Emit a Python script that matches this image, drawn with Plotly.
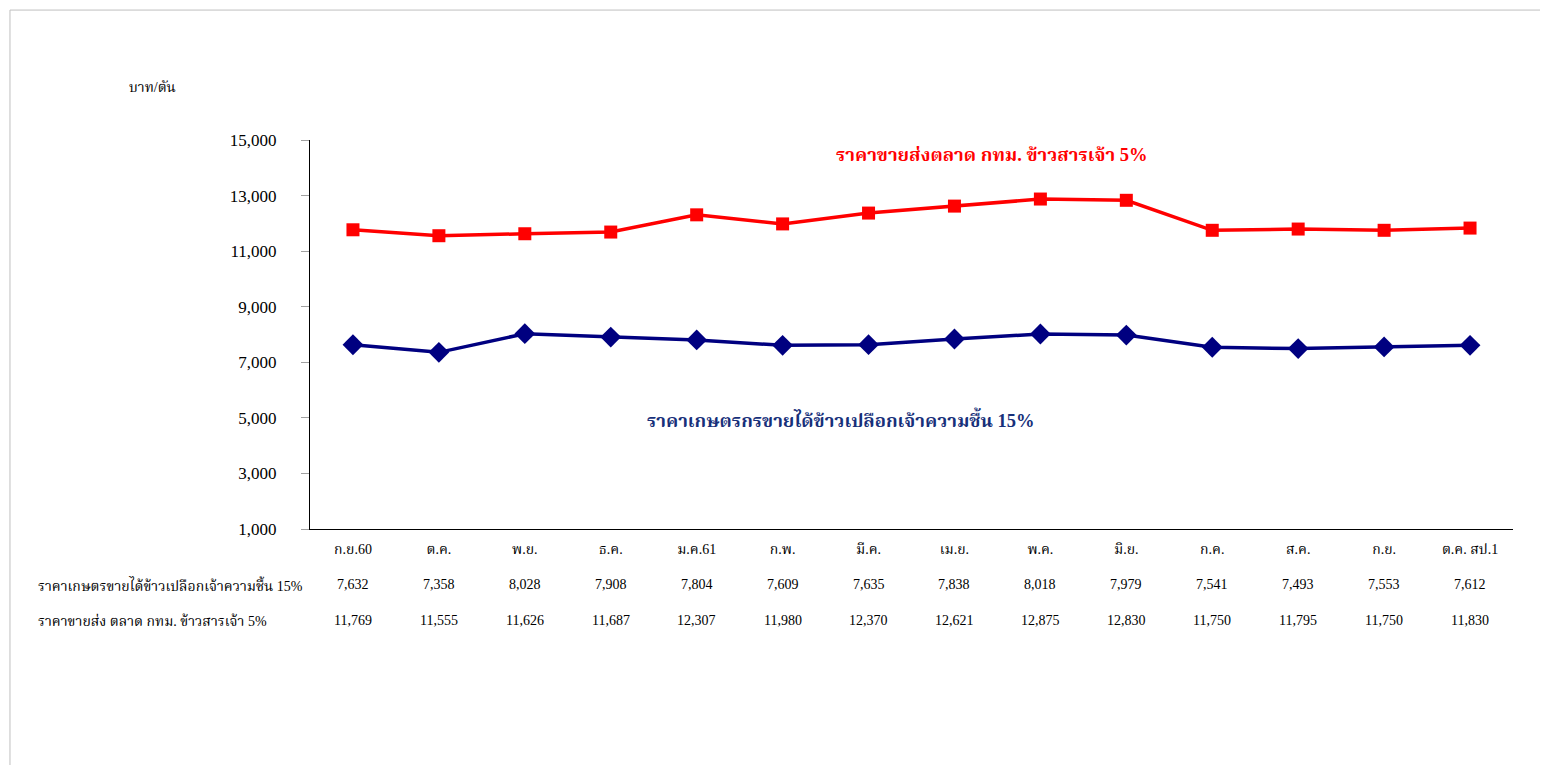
import plotly.graph_objects as go

categories = ["ก.ย.60", "ต.ค.", "พ.ย.", "ธ.ค.", "ม.ค.61", "ก.พ.", "มี.ค.", "เม.ย.",
              "พ.ค.", "มิ.ย.", "ก.ค.", "ส.ค.", "ก.ย.", "ต.ค. สป.1"]
farmer_price = [7632, 7358, 8028, 7908, 7804, 7609, 7635, 7838, 8018, 7979, 7541, 7493, 7553, 7612]
wholesale_price = [11769, 11555, 11626, 11687, 12307, 11980, 12370, 12621, 12875, 12830, 11750, 11795, 11750, 11830]
y_ticks = [1000, 3000, 5000, 7000, 9000, 11000, 13000, 15000]

row_label_farmer = "ราคาเกษตรขายได้ข้าวเปลือกเจ้าความชื้น 15%"
row_label_wholesale = "ราคาขายส่ง ตลาด กทม. ข้าวสารเจ้า 5%"
series_label_farmer = "ราคาเกษตรกรขายได้ข้าวเปลือกเจ้าความชื้น 15%"
series_label_wholesale = "ราคาขายส่งตลาด กทม. ข้าวสารเจ้า 5%"
unit_label = "บาท/ตัน"

FONT = "Liberation Serif, Times New Roman, Noto Serif Thai, Noto Sans Thai, serif"
RED = "#FF0000"
NAVY = "#000080"

fig = go.Figure()
fig.add_trace(go.Scatter(
    x=categories, y=wholesale_price, mode="lines+markers",
    line=dict(color=RED, width=3.5),
    marker=dict(symbol="square", size=13, color=RED),
    showlegend=False, cliponaxis=False))
fig.add_trace(go.Scatter(
    x=categories, y=farmer_price, mode="lines+markers",
    line=dict(color=NAVY, width=3.5),
    marker=dict(symbol="diamond", size=16, color=NAVY),
    showlegend=False, cliponaxis=False))

annotations = []
for c, v in zip(categories, farmer_price):
    annotations.append(dict(x=c, xref="x", y=-0.143, yref="paper", text=f"{v:,}",
                            showarrow=False, font=dict(family=FONT, size=14, color="black"),
                            xanchor="center", yanchor="middle"))
for c, v in zip(categories, wholesale_price):
    annotations.append(dict(x=c, xref="x", y=-0.236, yref="paper", text=f"{v:,}",
                            showarrow=False, font=dict(family=FONT, size=14, color="black"),
                            xanchor="center", yanchor="middle"))
annotations += [
    dict(x=-0.228, xref="paper", y=-0.143, yref="paper", text=row_label_farmer, showarrow=False,
         font=dict(family=FONT, size=14, color="black"), xanchor="left", yanchor="middle"),
    dict(x=-0.228, xref="paper", y=-0.236, yref="paper", text=row_label_wholesale, showarrow=False,
         font=dict(family=FONT, size=14, color="black"), xanchor="left", yanchor="middle"),
    dict(x=-0.152, xref="paper", y=1.136, yref="paper", text=unit_label, showarrow=False,
         font=dict(family=FONT, size=14, color="black"), xanchor="left", yanchor="middle"),
    dict(x=0.567, xref="paper", y=0.962, yref="paper", text=f"<b>{series_label_wholesale}</b>",
         showarrow=False, font=dict(family=FONT, size=18.5, color=RED), xanchor="center", yanchor="middle"),
    dict(x=0.441, xref="paper", y=0.283, yref="paper", text=f"<b>{series_label_farmer}</b>",
         showarrow=False, font=dict(family=FONT, size=18.5, color="#17307A"), xanchor="center", yanchor="middle"),
]

fig.update_layout(
    width=1548, height=765,
    margin=dict(l=302, r=43, t=132, b=244),
    paper_bgcolor="white", plot_bgcolor="white",
    font=dict(family=FONT, size=14, color="black"),
    xaxis=dict(type="category", range=[-0.5, len(categories) - 0.5], showline=True,
               linecolor="black", linewidth=1, ticks="", showgrid=False, zeroline=False,
               ticklabelstandoff=7,
               tickfont=dict(family=FONT, size=14, color="black")),
    yaxis=dict(range=[1000, 15000], tickvals=y_ticks, tickformat=",d", showline=True,
               linecolor="black", linewidth=1, ticks="outside", ticklen=8, tickcolor="#A0A0A0",
               showgrid=False, zeroline=False, ticklabelstandoff=21,
               tickfont=dict(family=FONT, size=17, color="black")),
    annotations=annotations,
    shapes=[dict(type="rect", xref="paper", yref="paper", x0=-0.2494, x1=1.2, y0=-0.8, y1=1.334,
                 line=dict(color="#BFBFBF", width=1), fillcolor="rgba(0,0,0,0)", layer="below")],
)

fig.write_html("out.html")
